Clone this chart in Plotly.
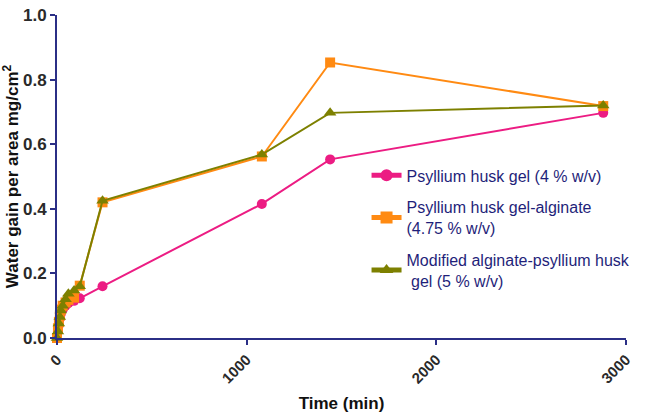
import plotly.graph_objects as go

# time points (min)
time_min = [0, 5, 10, 15, 20, 30, 45, 60, 90, 120, 240, 1080, 1440, 2880]

psyllium_gel = [0, 0.02, 0.04, 0.06, 0.075, 0.088, 0.10, 0.108, 0.115, 0.123, 0.16, 0.415, 0.553, 0.697]
psyllium_alginate = [0, 0.03, 0.05, 0.07, 0.088, 0.10, 0.11, 0.118, 0.125, 0.162, 0.42, 0.562, 0.853, 0.718]
modified_alginate = [0, 0.02, 0.045, 0.065, 0.085, 0.10, 0.12, 0.137, 0.147, 0.16, 0.425, 0.568, 0.697, 0.72]

names = ['Psyllium husk gel (4 % w/v)',
         'Psyllium husk gel-alginate<br>(4.75 % w/v)',
         'Modified alginate-psyllium husk<br> gel (5 % w/v)']

y_ticks = [0, 0.2, 0.4, 0.6, 0.8, 1.0]
x_ticks = [0, 1000, 2000, 3000]

navy = '#2B2F86'
fnt = 'Liberation Sans, Arial, sans-serif'

data = [
    go.Scatter(x=time_min, y=psyllium_gel, name=names[0], legendgroup='a', mode='lines+markers',
               line=dict(color='#EC1C83', width=2),
               marker=dict(symbol='circle', size=10, color='#EC1C83'), cliponaxis=False),
    go.Scatter(x=time_min, y=psyllium_alginate, name=names[1], legendgroup='b', mode='lines+markers',
               line=dict(color='#FF8A12', width=2),
               marker=dict(symbol='square', size=10, color='#FF8A12'), cliponaxis=False),
    go.Scatter(x=time_min, y=modified_alginate, name=names[2], legendgroup='c', mode='lines+markers',
               line=dict(color='#7D8000', width=2),
               marker=dict(symbol='triangle-up', size=11, color='#7D8000'), cliponaxis=False),
]

layout = go.Layout(
    width=666, height=416,
    margin=dict(l=57, r=40, t=6, b=76),
    plot_bgcolor='white', paper_bgcolor='white',
    font=dict(family=fnt, color='#333333'),
    xaxis=dict(range=[0, 3000], tickvals=x_ticks, tickangle=-45,
               showgrid=False, zeroline=False, showline=True, linecolor=navy, linewidth=2,
               ticks='outside', ticklen=5, tickwidth=2, tickcolor=navy,
               tickfont=dict(size=15, weight='bold', color='#2A2A2A'),
               title=dict(text='Time (min)', font=dict(size=17, weight='bold', color='#111111'),
                          standoff=12)),
    yaxis=dict(range=[0, 1.0], tickvals=y_ticks, tickformat='.1f', ticklabeloverflow='allow',
               showgrid=False, zeroline=False, showline=True, linecolor=navy, linewidth=2,
               ticks='outside', ticklen=5, tickwidth=2, tickcolor=navy,
               tickfont=dict(size=17, weight='bold', color='#2A2A2A'),
               title=dict(text='Water gain per area mg/cm<sup>2</sup>',
                          font=dict(size=17, weight='bold', color='#111111'), standoff=2)),
    legend=dict(x=0.544, y=0.556, xanchor='left', yanchor='top', traceorder='grouped',
                font=dict(size=16, color='#1F1F7A', family=fnt),
                bgcolor='rgba(0,0,0,0)', tracegroupgap=8, itemsizing='constant'),
)

fig = go.Figure(data=data, layout=layout)
# page body margin removed so the figure sits at the window's top-left corner
fig.write_html('out.html', config={'displayModeBar': False},
               post_script="document.body.style.margin='0';")
